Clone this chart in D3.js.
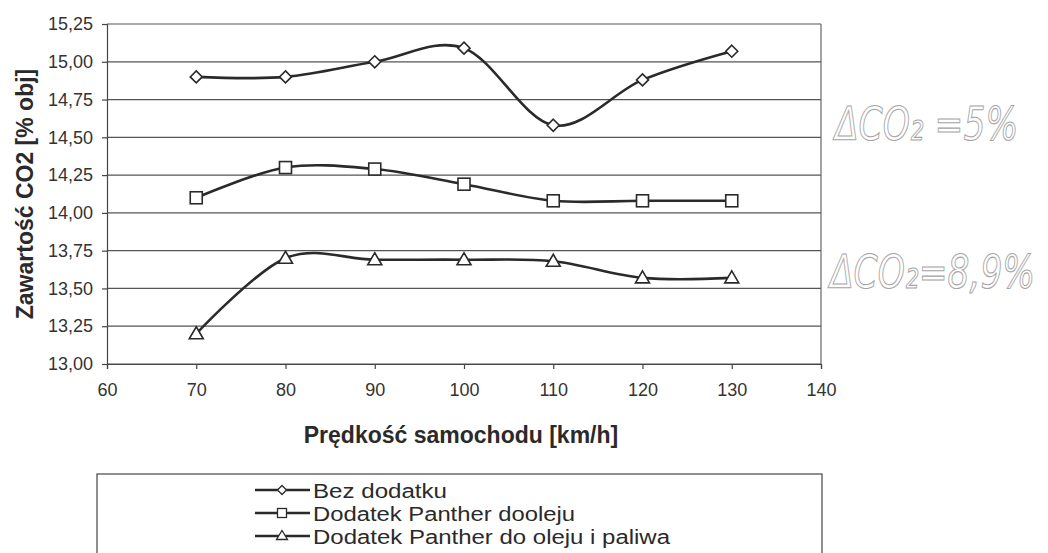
<!DOCTYPE html>
<html><head><meta charset="utf-8">
<script src="https://cdn.jsdelivr.net/npm/d3@7"></script>
<style>
body{margin:0;background:#fff;}
svg{display:block;}
</style></head>
<body>
<svg id="c" width="1048" height="553"></svg>
<script>
const speeds = [70, 80, 90, 100, 110, 120, 130];
const bezDodatku = [14.90, 14.90, 15.00, 15.09, 14.58, 14.88, 15.07];
const pantherOlej = [14.10, 14.30, 14.29, 14.19, 14.08, 14.08, 14.08];
const pantherOlejPaliwo = [13.20, 13.70, 13.69, 13.69, 13.68, 13.57, 13.57];
const seriesNames = ["Bez dodatku", "Dodatek Panther dooleju", "Dodatek Panther do oleju i paliwa"];
const markerTypes = ["diamond", "square", "triangle"];
const xTicks = [60, 70, 80, 90, 100, 110, 120, 130, 140];
const yTicks = [13.00, 13.25, 13.50, 13.75, 14.00, 14.25, 14.50, 14.75, 15.00, 15.25];
const annotations = ["ΔCO₂ =5%", "ΔCO₂=8,9%"];

const svg = d3.select("#c");
const font = "'Liberation Sans', Arial, sans-serif";
const ink = "#2a2a2a";

const x = d3.scaleLinear().domain([60, 140]).range([107, 821]);
const y = d3.scaleLinear().domain([13.0, 15.25]).range([364, 24]);

// gridlines
svg.append("g").selectAll("line").data(yTicks).join("line")
  .attr("x1", x(60)).attr("x2", x(140))
  .attr("y1", d => y(d)).attr("y2", d => y(d))
  .attr("stroke", "#555").attr("stroke-width", 1.2);

// right border
svg.append("line").attr("x1", x(140)).attr("x2", x(140)).attr("y1", y(15.25)).attr("y2", y(13))
  .attr("stroke", "#666").attr("stroke-width", 1.2);

// axes
const fmt = d => d.toFixed(2).replace(".", ",");
const yAxis = svg.append("g").attr("transform", `translate(${x(60)},0)`)
  .call(d3.axisLeft(y).tickValues(yTicks).tickFormat(fmt).tickSize(5).tickPadding(9));
const xAxis = svg.append("g").attr("transform", `translate(0,${y(13)})`)
  .call(d3.axisBottom(x).tickValues(xTicks).tickFormat(d3.format("d")).tickSize(5).tickPadding(14));
[yAxis, xAxis].forEach(a => {
  a.selectAll("path,line").attr("stroke", "#444").attr("stroke-width", 1.2);
  a.selectAll("text").attr("font-family", font).attr("font-size", 18).attr("fill", "#333");
});

// axis titles
svg.append("text").attr("x", 461).attr("y", 443).attr("text-anchor", "middle")
  .attr("font-family", font).attr("font-weight", "bold").attr("font-size", 23).attr("fill", ink)
  .text("Prędkość samochodu [km/h]");
svg.append("text").attr("transform", "translate(33,194) rotate(-90)").attr("text-anchor", "middle")
  .attr("font-family", font).attr("font-weight", "bold").attr("font-size", 23).attr("fill", ink)
  .text("Zawartość CO2 [% obj]");

// series
const allSeries = [bezDodatku, pantherOlej, pantherOlejPaliwo];
const line = d3.line().x((d, i) => x(speeds[i])).y(d => y(d)).curve(d3.curveCardinal.tension(0));

function marker(g, type, cx, cy, s) {
  if (type === "diamond") {
    g.append("path").attr("d", `M${cx},${cy - s}L${cx + s},${cy}L${cx},${cy + s}L${cx - s},${cy}Z`);
  } else if (type === "square") {
    g.append("rect").attr("x", cx - s).attr("y", cy - s).attr("width", 2 * s).attr("height", 2 * s);
  } else {
    g.append("path").attr("d", `M${cx},${cy - s - 1}L${cx + s + 1},${cy + s - 1}L${cx - s - 1},${cy + s - 1}Z`);
  }
}

allSeries.forEach((vals, si) => {
  svg.append("path").datum(vals).attr("d", line).attr("fill", "none")
    .attr("stroke", ink).attr("stroke-width", 2.6);
  const mg = svg.append("g").attr("fill", "#fff").attr("stroke", ink).attr("stroke-width", 1.6);
  vals.forEach((v, i) => marker(mg, markerTypes[si], x(speeds[i]), y(v), 6));
});

// legend
svg.append("rect").attr("x", 97).attr("y", 474).attr("width", 725).attr("height", 90)
  .attr("fill", "none").attr("stroke", "#444").attr("stroke-width", 1.2);
const legendWidths = [134, 262, 357];
seriesNames.forEach((n, i) => {
  const ly = 490 + i * 23;
  const g = svg.append("g");
  g.append("line").attr("x1", 255).attr("x2", 310).attr("y1", ly).attr("y2", ly)
    .attr("stroke", ink).attr("stroke-width", 2.6);
  const mg = g.append("g").attr("fill", "#fff").attr("stroke", ink).attr("stroke-width", 1.3);
  marker(mg, markerTypes[i], 282, ly, 4.5);
  g.append("text").attr("x", 313).attr("y", ly + 7.5).attr("font-family", font)
    .attr("font-size", 20).attr("fill", ink)
    .attr("textLength", legendWidths[i]).attr("lengthAdjust", "spacingAndGlyphs")
    .text(n);
});

// handwritten annotations
const annPos = [[835, 140], [830, 288]];
annotations.forEach((a, i) => {
  svg.append("text")
    .attr("transform", `translate(${annPos[i][0]},${annPos[i][1]}) scale(0.75,1)`)
    .attr("font-family", "'DejaVu Sans', sans-serif").attr("font-style", "italic")
    .attr("font-size", 46).attr("fill", "none").attr("stroke", "#a5a5a5").attr("stroke-width", 1.1)
    .text(a);
});
</script>
</body></html>
